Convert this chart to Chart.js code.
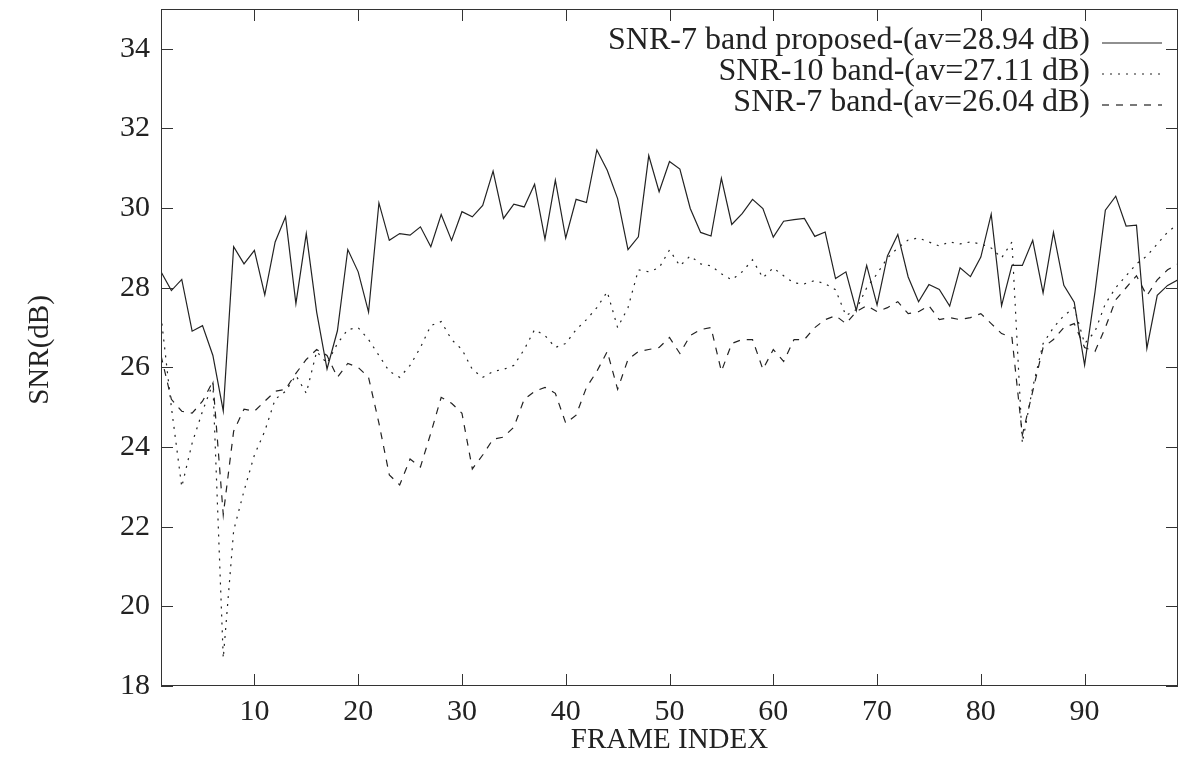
<!DOCTYPE html>
<html>
<head>
<meta charset="utf-8">
<title>SNR per frame</title>
<script src="https://cdn.jsdelivr.net/npm/chart.js@4.4.1/dist/chart.umd.min.js"></script>
<style>
  html, body { margin: 0; padding: 0; background: #fff; }
  #wrap { width: 1180px; height: 760px; }
</style>
</head>
<body>
<div id="wrap"><canvas id="snrChart" width="1180" height="760"></canvas></div>
<script>
// ==================== DATA ====================
const frames = Array.from({ length: 99 }, (_, i) => i + 1);

const snrProposed = [
  28.40, 27.93, 28.21, 26.91, 27.05, 26.30, 24.91, 29.03, 28.60, 28.94,
  27.82, 29.15, 29.78, 27.60, 29.36, 27.39, 25.96, 26.92, 28.96, 28.40,
  27.39, 30.13, 29.19, 29.36, 29.32, 29.53, 29.03, 29.84, 29.19, 29.91,
  29.78, 30.07, 30.93, 29.74, 30.10, 30.03, 30.60, 29.22, 30.70, 29.25,
  30.22, 30.14, 31.46, 30.95, 30.24, 28.96, 29.28, 31.32, 30.41, 31.17,
  30.98, 29.99, 29.39, 29.30, 30.75, 29.59, 29.86, 30.22, 29.99, 29.27,
  29.67, 29.71, 29.74, 29.29, 29.40, 28.23, 28.40, 27.43, 28.56, 27.57,
  28.80, 29.34, 28.27, 27.65, 28.08, 27.96, 27.54, 28.50, 28.28, 28.77,
  29.85, 27.55, 28.56, 28.56, 29.19, 27.87, 29.39, 28.06, 27.64, 26.06,
  27.89, 29.95, 30.30, 29.55, 29.57, 26.48, 27.81, 28.06, 28.20
];

const snr10Band = [
  27.30, 25.00, 23.00, 24.10, 24.90, 25.60, 18.70, 21.90, 22.90, 23.80,
  24.40, 25.20, 25.40, 25.80, 25.35, 26.40, 26.10, 26.60, 26.95, 27.00,
  26.70, 26.30, 25.90, 25.75, 26.05, 26.50, 27.05, 27.15, 26.70, 26.45,
  25.95, 25.75, 25.90, 25.95, 26.05, 26.45, 26.95, 26.80, 26.50, 26.60,
  26.95, 27.20, 27.50, 27.90, 27.00, 27.50, 28.45, 28.40, 28.50, 28.95,
  28.55, 28.80, 28.60, 28.55, 28.35, 28.20, 28.40, 28.70, 28.25, 28.50,
  28.30, 28.12, 28.10, 28.18, 28.10, 27.95, 27.30, 27.45, 28.00, 28.35,
  28.75, 29.00, 29.20, 29.25, 29.15, 29.05, 29.15, 29.10, 29.15, 29.10,
  29.00, 28.75, 29.15, 24.10, 25.50, 26.60, 27.00, 27.30, 27.50, 26.60,
  26.90, 27.60, 28.00, 28.30, 28.60, 28.80, 29.10, 29.40, 29.60
];

const snr7Band = [
  26.30, 25.20, 24.90, 24.85, 25.15, 25.65, 22.30, 24.40, 24.95, 24.90,
  25.15, 25.40, 25.45, 25.85, 26.20, 26.45, 26.30, 25.75, 26.10, 26.00,
  25.75, 24.60, 23.30, 23.05, 23.70, 23.50, 24.35, 25.25, 25.10, 24.85,
  23.45, 23.80, 24.20, 24.25, 24.50, 25.20, 25.40, 25.50, 25.35, 24.60,
  24.80, 25.50, 25.90, 26.40, 25.45, 26.20, 26.40, 26.45, 26.50, 26.75,
  26.35, 26.80, 26.95, 27.00, 25.90, 26.60, 26.70, 26.70, 25.95, 26.45,
  26.15, 26.70, 26.70, 27.00, 27.20, 27.30, 27.10, 27.40, 27.55, 27.40,
  27.50, 27.65, 27.35, 27.40, 27.55, 27.20, 27.25, 27.20, 27.25, 27.35,
  27.10, 26.85, 26.75, 24.30, 25.40, 26.50, 26.70, 27.00, 27.10, 26.50,
  26.40, 27.00, 27.70, 28.00, 28.30, 27.80, 28.20, 28.45, 28.60
];

const seriesLabels = [
  "SNR-7 band proposed-(av=28.94 dB)",
  "SNR-10 band-(av=27.11 dB)",
  "SNR-7 band-(av=26.04 dB)"
];
const seriesDash = [[], [2, 6], [7, 7]];

const xTicks = [10, 20, 30, 40, 50, 60, 70, 80, 90];
const yTicks = [18, 20, 22, 24, 26, 28, 30, 32, 34];

const FONT = "'Liberation Serif', 'Times New Roman', serif";
const INK = "#222";

// ==================== FRAME, TICKS, LEGEND, TITLES ====================
const framePlugin = {
  id: "gnuplotFrame",
  afterDatasetsDraw(chart) {
    const { ctx, chartArea: a, scales } = chart;
    const x = scales.x, y = scales.y;
    const tl = 12;

    ctx.save();
    ctx.strokeStyle = "#333";
    ctx.lineWidth = 1;
    ctx.setLineDash([]);
    ctx.strokeRect(a.left + 0.5, a.top + 0.5, a.right - a.left - 1, a.bottom - a.top - 1);

    ctx.beginPath();
    xTicks.forEach(v => {
      const px = Math.round(x.getPixelForValue(v)) + 0.5;
      ctx.moveTo(px, a.bottom); ctx.lineTo(px, a.bottom - tl);
      ctx.moveTo(px, a.top); ctx.lineTo(px, a.top + tl);
    });
    yTicks.forEach(v => {
      const py = Math.round(y.getPixelForValue(v)) + 0.5;
      ctx.moveTo(a.left, py); ctx.lineTo(a.left + tl, py);
      ctx.moveTo(a.right, py); ctx.lineTo(a.right - tl, py);
    });
    ctx.stroke();

    // legend (top right, inside the frame)
    ctx.font = "32px " + FONT;
    ctx.fillStyle = INK;
    ctx.textAlign = "right";
    ctx.textBaseline = "middle";
    chart.data.datasets.forEach((ds, i) => {
      const ly = a.top + 32 + i * 31;
      ctx.fillText(seriesLabels[i], 1090, ly);
      ctx.beginPath();
      ctx.strokeStyle = INK;
      ctx.lineWidth = 1.2;
      ctx.setLineDash(seriesDash[i]);
      ctx.moveTo(1102, ly + 2);
      ctx.lineTo(1162, ly + 2);
      ctx.stroke();
    });
    ctx.setLineDash([]);

    // axis titles
    ctx.font = "29px " + FONT;
    ctx.textAlign = "center";
    ctx.fillText("FRAME INDEX", (a.left + a.right) / 2, 740);
    ctx.translate(40, 350);
    ctx.rotate(-Math.PI / 2);
    ctx.fillText("SNR(dB)", 0, 0);
    ctx.restore();
  }
};

// ==================== CHART ====================
const seriesData = [snrProposed, snr10Band, snr7Band];

new Chart(document.getElementById("snrChart"), {
  type: "line",
  data: {
    labels: frames,
    datasets: seriesData.map((vals, i) => ({
      label: seriesLabels[i],
      data: vals.map((v, k) => ({ x: frames[k], y: v })),
      borderColor: INK,
      borderWidth: 1.2,
      borderDash: seriesDash[i],
      pointRadius: 0,
      tension: 0,
      fill: false
    }))
  },
  options: {
    responsive: false,
    animation: false,
    layout: { padding: { left: 0, right: 2, top: 9, bottom: 0 } },
    plugins: {
      legend: { display: false },
      tooltip: { enabled: false }
    },
    scales: {
      x: {
        type: "linear",
        min: 1,
        max: 99,
        afterBuildTicks: axis => { axis.ticks = xTicks.map(v => ({ value: v })); },
        afterFit: axis => {
          axis.height = 74;
          axis.paddingLeft = 0;
          axis.paddingRight = 0;
        },
        grid: { display: false, drawTicks: false },
        border: { display: false },
        ticks: {
          color: INK,
          font: { family: FONT, size: 30 },
          padding: 8,
          maxRotation: 0,
          autoSkip: false
        }
      },
      y: {
        min: 18,
        max: 35,
        afterBuildTicks: axis => { axis.ticks = yTicks.map(v => ({ value: v })); },
        afterFit: axis => {
          axis.width = 161;
          axis.paddingTop = 0;
          axis.paddingBottom = 0;
        },
        grid: { display: false, drawTicks: false },
        border: { display: false },
        ticks: {
          color: INK,
          font: { family: FONT, size: 30 },
          padding: 11
        }
      }
    }
  },
  plugins: [framePlugin]
});
</script>
</body>
</html>
